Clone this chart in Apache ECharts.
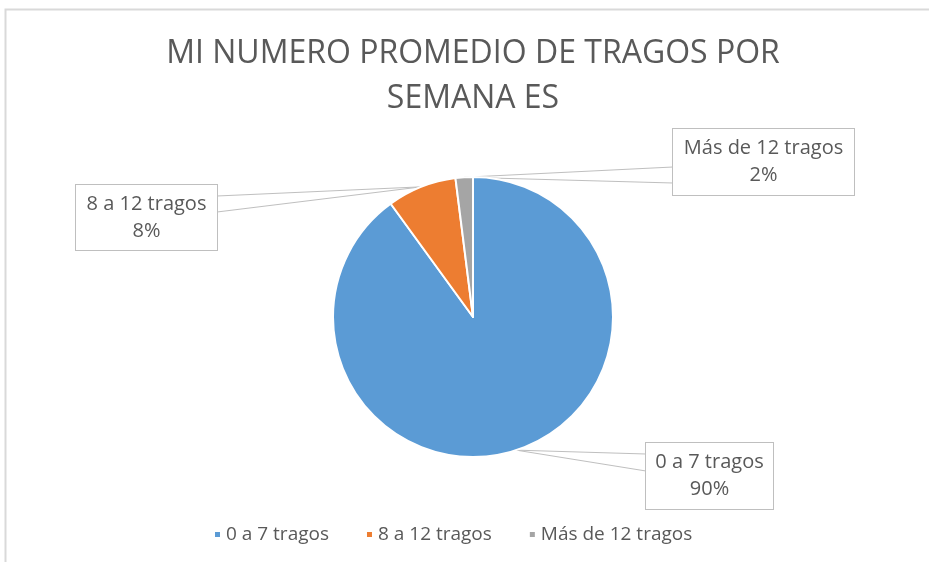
<!DOCTYPE html>
<html>
<head>
<meta charset="utf-8">
<script src="https://cdn.jsdelivr.net/npm/echarts@6/dist/echarts.min.js"></script>
<style>
  html, body { margin: 0; padding: 0; background: #fff; }
  #chart { width: 929px; height: 562px; }
</style>
</head>
<body>
<div id="chart"></div>
<script>
const titleText = 'MI NUMERO PROMEDIO DE TRAGOS POR\nSEMANA ES'
const categories = ['0 a 7 tragos', '8 a 12 tragos', 'Más de 12 tragos']
const values = [90, 8, 2]
const colors = ['#5b9bd5', '#ed7d31', '#a5a5a5']

// where the callout boxes sit (left, top, width, height) and which side the wedge attaches to
const boxes = [
  { x: 646, y: 443, w: 127, h: 66, side: 'left', a: 454, b: 471 },
  { x: 76, y: 185, w: 141, h: 65, side: 'right', a: 196, b: 212 },
  { x: 673, y: 129, w: 181, h: 66, side: 'left', a: 167, b: 183 }
]

const chart = echarts.init(document.getElementById('chart'))

chart.setOption({
  backgroundColor: '#fff',
  textStyle: { fontFamily: 'Open Sans' },
  title: {
    text: titleText,
    left: 473,
    top: 31,
    padding: 0,
    textAlign: 'center',
    textStyle: {
      fontFamily: 'Open Sans',
      fontSize: 32,
      fontWeight: 'normal',
      color: '#595959',
      lineHeight: 45
    }
  },
  graphic: [{
    type: 'rect',
    shape: { x: 5.5, y: 9.5, width: 1000, height: 1000 },
    style: { fill: 'none', stroke: '#d9d9d9', lineWidth: 2 },
    silent: true
  }],
  legend: {
    bottom: 13,
    left: 208,
    icon: 'rect',
    itemWidth: 7,
    itemHeight: 7,
    itemGap: 36,
    textStyle: { fontSize: 19, color: '#595959', fontFamily: 'Open Sans' },
    data: categories
  },
  color: colors,
  series: [{
    type: 'pie',
    center: [473, 317],
    radius: 140,
    startAngle: 90,
    clockwise: true,
    itemStyle: { borderColor: '#fff', borderWidth: 2 },
    label: {
      show: true,
      formatter: '{b}\n{d}%',
      fontFamily: 'Open Sans',
      fontSize: 20,
      lineHeight: 27,
      color: '#595959',
      backgroundColor: '#fff',
      borderColor: '#bfbfbf',
      borderWidth: 1,
      align: 'center'
    },
    labelLine: { show: true, lineStyle: { color: '#bfbfbf', width: 1 } },
    labelLayout: function (params) {
      const bx = boxes[params.dataIndex]
      const anchor = params.labelLinePoints[0]
      const ex = bx.side === 'left' ? bx.x : bx.x + bx.w
      return {
        x: bx.x + bx.w / 2,
        y: bx.y + bx.h / 2,
        align: 'center',
        verticalAlign: 'middle',
        width: bx.w,
        height: bx.h,
        labelLinePoints: [[ex, bx.a], anchor, [ex, bx.b]]
      }
    },
    data: categories.map(function (name, i) {
      return { name: name, value: values[i] }
    })
  }]
})
</script>
</body>
</html>
